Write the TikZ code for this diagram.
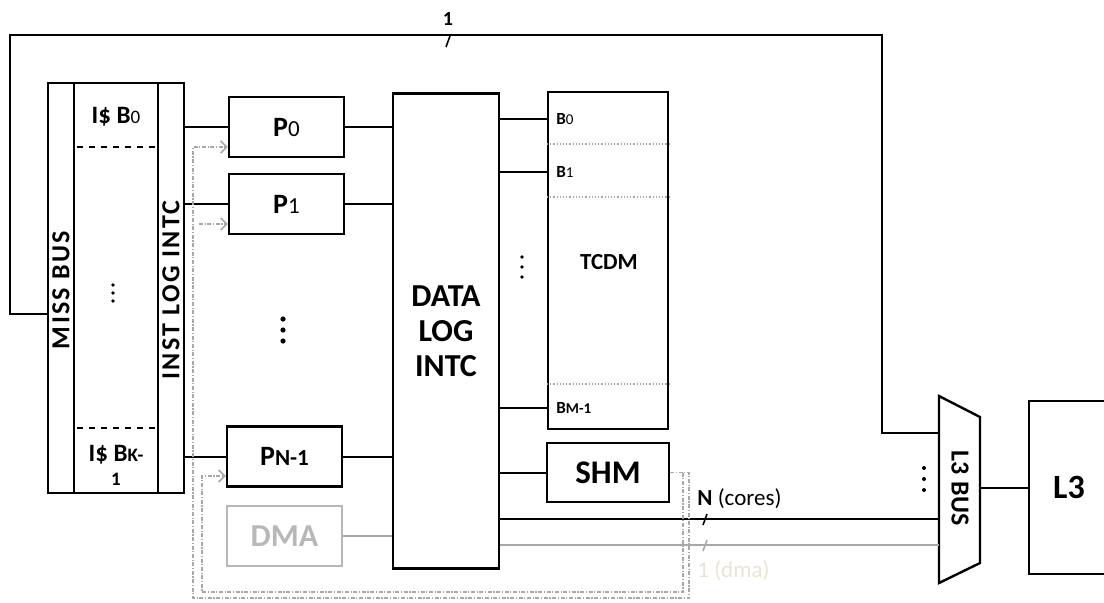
\documentclass[tikz,border=0pt]{standalone}
\usepackage{fontspec}
\setmainfont{Carlito}
\usetikzlibrary{arrows.meta, positioning, calc}
\definecolor{LineGray}{gray}{0.66}
\definecolor{DmaGray}{gray}{0.72}
\definecolor{FaintText}{RGB}{232,229,214}
\newcommand{\idx}[2][9]{{\fontsize{#1}{#1}\selectfont\mdseries #2}}

\begin{document}
\begin{tikzpicture}[
    x=0.5pt, y=-0.5pt,
    font=\bfseries,
    box/.style={draw, line width=1.2pt, inner sep=0pt, align=center},
    core/.style={box, minimum width=57.5pt, minimum height=30pt, font=\bfseries\fontsize{14}{16}\selectfont},
    strip/.style={draw, line width=1.1pt, inner sep=0pt, minimum width=13pt, minimum height=205pt},
    spaced/.style={rotate=#1, inner sep=0pt, font=\bfseries\fontsize{13}{15}\selectfont\addfontfeature{LetterSpace=9}},
    wire/.style={line width=1pt},
    greywire/.style={line width=1pt, LineGray},
    loopline/.style={LineGray, line width=0.8pt, dash pattern=on 2pt off 0.8pt on 0.6pt off 0.8pt},
    looparrow/.style={loopline, -{Straight Barb[length=3pt, width=6pt]}},
    slash/.style={line width=0.8pt},
    banklbl/.style={anchor=west, inner sep=0pt, font=\bfseries\fontsize{8.5}{10}\selectfont},
]
\useasboundingbox (0,0) rectangle (1104,602);

% instruction cache block
\node[strip] (missbus) at (61,288) {};
\node[strip, minimum width=42pt] (icache) at (116,288) {};
\node[strip] (instlog) at (171,288) {};
\node[spaced=90] (missbustxt) at (61,290) {MISS BUS};
\node[spaced=90] (instlogtxt) at (171,290) {INST LOG INTC};
\node[font=\bfseries\fontsize{12.5}{14}\selectfont] (ib0) at (116,117) {I\$ B\idx[9.5]{0}};
\node[font=\bfseries\fontsize{12.5}{12}\selectfont, align=center] (ibk) at (116,465) {I\$ B\idx[9.5]{\bfseries K-}\\\idx[9.5]{\bfseries 1}};
\foreach \y in {285, 293, 301}
    \fill (113,\y) circle (0.9pt);
\draw[dashed, line width=0.8pt] (77,147) -- (instlog.west |- 0,147);
\draw[dashed, line width=0.8pt] (77,428) -- (instlog.west |- 0,428);

% cores
\foreach \n/\y in {0/127, 1/204} {
    \node[core] (p\n) at (286.5,\y) {P\idx[11.5]{\n}};
    \draw[wire] (instlog.east |- p\n) -- (p\n);
}
\node[core] (pn1) at (284.5,456.5) {P\idx[11.5]{\bfseries N-1}};
\draw[wire] (instlog.east |- pn1) -- (pn1);
\foreach \y in {319, 330, 341}
    \fill (283,\y) circle (1.3pt);
\node[box, draw=DmaGray, text=DmaGray, minimum width=57.5pt, minimum height=30pt,
    font=\bfseries\fontsize{16}{18}\selectfont] (dma) at (284.5,536) {DMA};

% data interconnect
\node[box, minimum width=53pt, minimum height=237.5pt, font=\bfseries\fontsize{16}{17.5}\selectfont] (dli) at (446,331) {DATA\\LOG\\INTC};
\draw[wire] (p0) -- (dli.west |- p0);
\draw[wire] (p1) -- (dli.west |- p1);
\draw[wire] (pn1) -- (dli.west |- pn1);
\draw[greywire, line width=1.3pt] (dma) -- (dli.west |- dma);

% TCDM banks
\node[box, line width=1pt, minimum width=60pt, minimum height=168.5pt] (tcdm) at (608,260.5) {};
\node[font=\bfseries\fontsize{11.5}{13}\selectfont] (tcdmtxt) at (609,262) {TCDM};
\foreach \y in {144, 197, 384}
    \draw[LineGray, densely dotted, line width=0.6pt] (tcdm.west |- 0,\y) -- (tcdm.east |- 0,\y);
\foreach \y/\lbl [count=\i] in {119/{B\idx[7.5]{0}}, 172/{B\idx[7.5]{1}}, 408/{B\idx[7.5]{\bfseries M-1}}} {
    \draw[wire] (dli.east |- 0,\y) -- (tcdm.west |- 0,\y);
    \node[banklbl] (b\i) at (556,\y) {\lbl};
}
\foreach \y in {257, 267, 277}
    \fill (522,\y) circle (0.9pt);

% shared memory
\node[box, minimum width=61pt, minimum height=29.5pt, font=\bfseries\fontsize{16.5}{18}\selectfont] (shm) at (608,472.5) {SHM};
\draw[wire] (dli.east |- shm) -- (shm);

% L3 bus and L3
\draw[line width=1.2pt] (939,396) -- (980,417) -- (980,563) -- (939,583) -- cycle;
\node[rotate=-90, inner sep=0pt, font=\bfseries\fontsize{13}{15}\selectfont\addfontfeature{LetterSpace=2}] (l3bus) at (960,488) {L3 BUS};
\coordinate (busin1) at (939,433);
\coordinate (busin2) at (939,519);
\coordinate (busin3) at (939,545);
\coordinate (busout) at (980,487.5);
\foreach \y in {468, 479, 490}
    \fill (924,\y) circle (1pt);
\node[box, minimum width=40pt, minimum height=86.5pt, font=\bfseries\fontsize{17}{19}\selectfont] (l3) at (1069,487.5) {L3};
\draw[wire] (busout) -- (l3);

% miss path to L3
\draw[wire] (missbus.west |- 0,314) -- (10,314) -- (10,35) -- (882,35) -- (882,433) -- (busin1);
\draw[slash] (446,47) -- (450,36);
\node[font=\bfseries\fontsize{10}{11}\selectfont, inner sep=0pt] (one) at (448,19) {1};

% cores and dma to L3
\draw[wire] (dli.east |- busin2) -- (busin2);
\draw[slash] (703,525) -- (707,514);
\node[anchor=west, inner sep=0pt, font=\fontsize{11.5}{13}\selectfont] (ncores) at (697,499) {\textbf{N} (cores)};
\draw[greywire] (dli.east |- busin3) -- (busin3);
\draw[slash, LineGray] (703,551) -- (707,540);
\node[anchor=west, inner sep=0pt, text=FaintText, font=\fontsize{11.5}{13}\selectfont] (ndma) at (697,571) {1 (dma)};

% boot / wake-up loops from SHM
\draw[looparrow] (shm.east) -- (689,472.5) -- (689,598) -- (193,598) -- (193,147) -- (p0.west |- 0,147);
\draw[looparrow] (199,224) -- (p1.west |- 0,224);
\draw[looparrow] (683,472.5) -- (683,592) -- (202,592) -- (202,476) -- (pn1.west |- 0,476);

\end{tikzpicture}
\end{document}
